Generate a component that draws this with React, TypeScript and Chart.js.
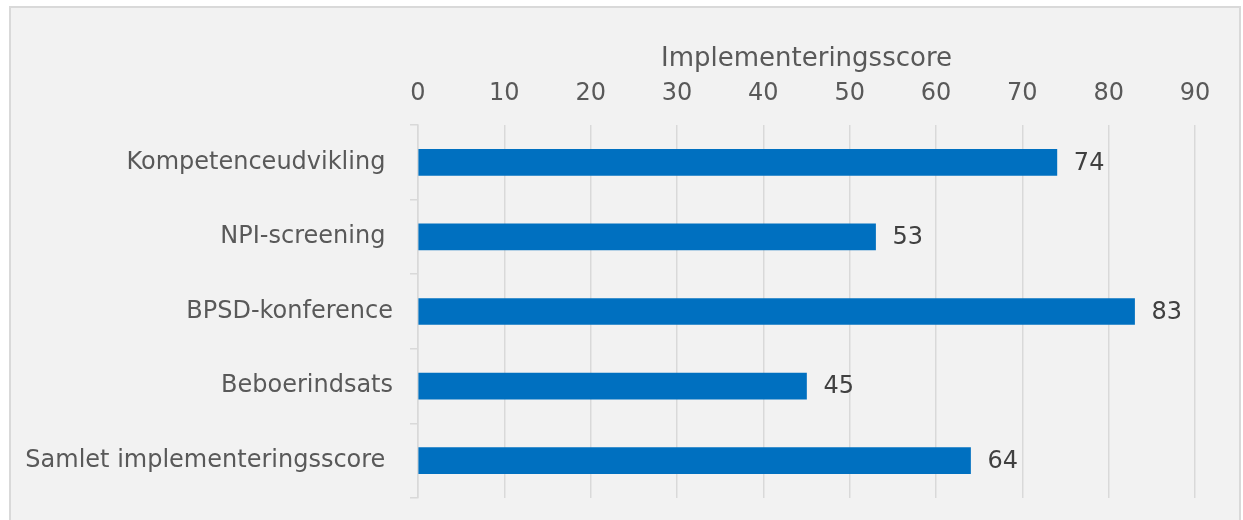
import React, { useEffect, useRef } from "react";
import { Chart, registerables } from "chart.js";

Chart.register(...registerables);

const categories = [
  "Kompetenceudvikling ",
  "NPI-screening ",
  "BPSD-konference",
  "Beboerindsats",
  "Samlet implementeringsscore ",
];
const scores = [74, 53, 83, 45, 64];
const axisTitle = "Implementeringsscore";
const xMin = 0;
const xMax = 90;
const xStep = 10;

const FONT = "'DejaVu Sans', Verdana, sans-serif";

const valueLabels = {
  id: "valueLabels",
  afterDatasetsDraw(chart: any) {
    const ctx = chart.ctx;
    const meta = chart.getDatasetMeta(0);
    ctx.save();
    ctx.font = `24px ${FONT}`;
    ctx.fillStyle = "#404040";
    ctx.textAlign = "left";
    ctx.textBaseline = "middle";
    meta.data.forEach((bar: any, i: number) => {
      ctx.fillText(String(chart.data.datasets[0].data[i]), bar.x + 17, bar.y + 1);
    });
    ctx.restore();
  },
};

export default function App() {
  const ref = useRef<HTMLCanvasElement>(null);
  useEffect(() => {
    if (!ref.current) return;
    const chart = new Chart(ref.current, {
      type: "bar",
      data: {
        labels: categories,
        datasets: [
          {
            data: scores,
            backgroundColor: "#0070c0",
            borderWidth: 0,
            barThickness: 26,
          },
        ],
      },
      options: {
        indexAxis: "y",
        animation: false,
        responsive: false,
        layout: { padding: { left: 0, right: 44, top: 0, bottom: 22 } },
        plugins: { legend: { display: false }, tooltip: { enabled: false } },
        scales: {
          x: {
            position: "top",
            min: xMin,
            max: xMax,
            ticks: {
              stepSize: xStep,
              color: "#595959",
              font: { family: FONT, size: 24 },
              padding: 17,
            },
            grid: {
              color: "#d9d9d9",
              lineWidth: 1.5,
              drawTicks: false,
            },
            border: { display: false },
            title: {
              display: true,
              text: axisTitle,
              color: "#595959",
              font: { family: FONT, size: 26 },
              padding: { top: 36, bottom: 0 },
            },
            afterFit(scale: any) {
              scale.height = 117;
              scale.paddingLeft = 0;
              scale.paddingRight = 0;
            },
          },
          y: {
            ticks: {
              color: "#595959",
              font: { family: FONT, size: 24 },
              padding: 17,
            },
            grid: {
              offset: true,
              drawOnChartArea: false,
              drawTicks: true,
              tickLength: 8,
              color: "#d9d9d9",
              lineWidth: 1.5,
            },
            border: { display: true, color: "#d9d9d9", width: 1.5 },
            afterFit(scale: any) {
              scale.width = 407;
              scale.paddingTop = 0;
              scale.paddingBottom = 0;
            },
          },
        },
      },
      plugins: [valueLabels],
    });
    return () => chart.destroy();
  }, []);

  return (
    <div
      style={{
        position: "fixed",
        left: 9,
        top: 6,
        width: 1228,
        height: 514,
        borderTop: "2px solid #d9d9d9",
        borderLeft: "2px solid #d9d9d9",
        borderRight: "2px solid #d9d9d9",
        background: "#f2f2f2",
        overflow: "hidden",
      }}
    >
      <canvas ref={ref} width={1228} height={512} style={{ display: "block" }} />
    </div>
  );
}
